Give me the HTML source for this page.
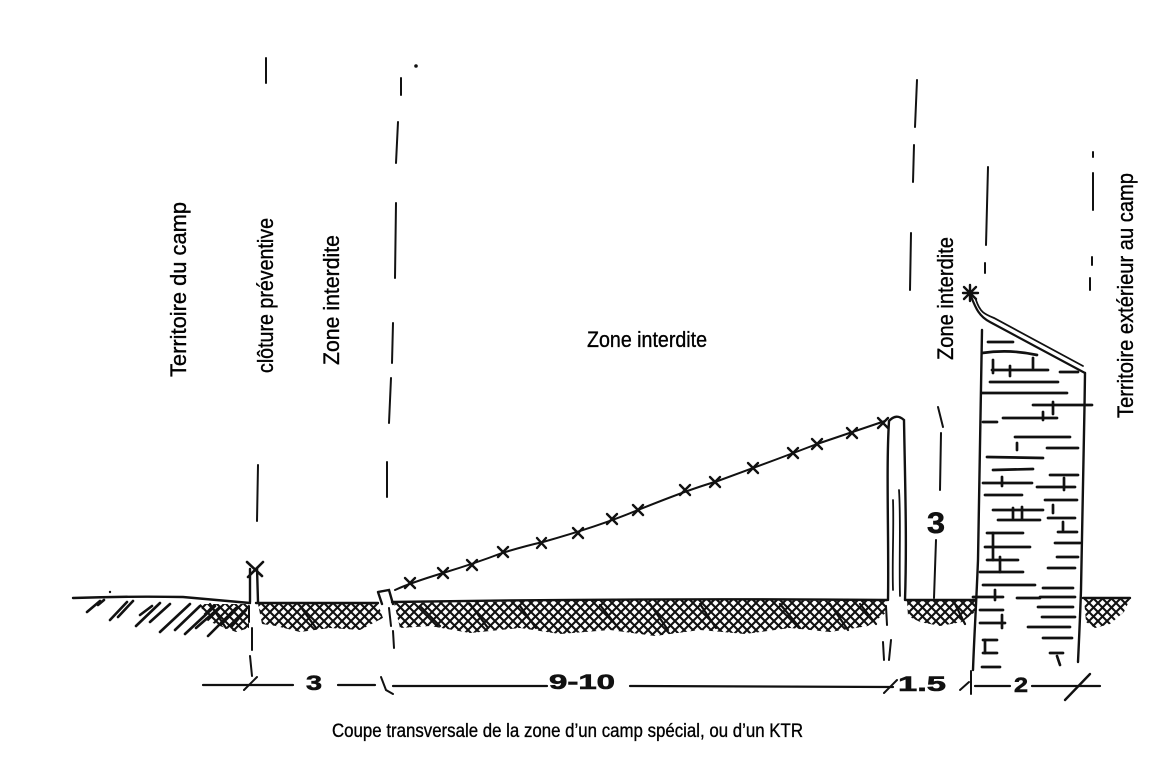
<!DOCTYPE html>
<html><head><meta charset="utf-8"><style>
html,body{margin:0;padding:0;background:#fff;}
svg{display:block}
text{font-family:"Liberation Sans",Arial,sans-serif;fill:#000;stroke:#000;stroke-width:0.35}
.d{font-family:"Liberation Sans",Arial,sans-serif;font-weight:bold;fill:#111;stroke:#111;stroke-width:0.6}
</style></head><body>
<svg width="1168" height="759" viewBox="0 0 1168 759" xmlns="http://www.w3.org/2000/svg">
<defs>
<pattern id="xh" width="9" height="9" patternUnits="userSpaceOnUse">
<path d="M-2,11 L11,-2 M-2,2 L2,-2 M7,11 L11,7 M-2,-2 L11,11 M7,-2 L11,2 M-2,7 L2,11" stroke="#111" stroke-width="2.1" fill="none"/>
</pattern>
</defs>

<!-- Labels -->
<text transform="translate(186,377) rotate(-90)" font-size="22" textLength="175" lengthAdjust="spacingAndGlyphs">Territoire du camp</text>
<text transform="translate(273,373) rotate(-90)" font-size="22" textLength="155" lengthAdjust="spacingAndGlyphs">clôture préventive</text>
<text transform="translate(339,365) rotate(-90)" font-size="22" textLength="130" lengthAdjust="spacingAndGlyphs">Zone interdite</text>
<text x="587" y="347" font-size="22" textLength="120" lengthAdjust="spacingAndGlyphs">Zone interdite</text>
<text transform="translate(953,360) rotate(-90)" font-size="22" textLength="123" lengthAdjust="spacingAndGlyphs">Zone interdite</text>
<text transform="translate(1133,418) rotate(-90)" font-size="22" textLength="245" lengthAdjust="spacingAndGlyphs">Territoire extérieur au camp</text>
<text x="332" y="737" font-size="19.5" textLength="471" lengthAdjust="spacingAndGlyphs">Coupe transversale de la zone d’un camp spécial, ou d’un KTR</text>

<g stroke="#111" stroke-width="2" fill="none" stroke-linecap="round">
<!-- dashed vertical guide lines -->
<path d="M266,58 L266,83 M258,465 L257,521"/>
<path d="M401,78 L401,95 M398,122 L396,163 M396,203 L395,278 M393,323 L392,363 M391,378 L389,423 M387,462 L387,497"/>
<circle cx="416" cy="66" r="0.8" fill="#111"/>
<path d="M917,80 L915,127 M914,145 L913,182 M911,233 L910,290"/>
<path d="M988,167 L986,245 M985,263 L985,273"/>
<path d="M1093,152 L1093,157 M1093,173 L1093,210 M1092,257 L1092,265 M1090,278 L1090,290"/>
<path d="M938,407 L943,427 M941,433 L940,490"/>
<path d="M936,540 L934,598"/>

<!-- ground line -->
<path d="M73,598 Q130,596 183,597 L250,603 M256,603 L378,603 M392,602 Q640,598 887,600 M906,600 L975,600 M1083,598 L1130,598" stroke-width="2.4"/>

<!-- left sparse hatch strokes -->
<path stroke-width="2.6" d="M87,612 L100,601 M110,620 L127,602 M118,617 L133,601 M136,626 L160,603 M150,622 L170,604 M160,632 L190,604 M175,630 L200,606 M185,634 L215,606 M196,628 L220,607 M208,636 L236,608 M232,626 L246,610 M140,615 L152,606 M98,605 L104,600"/>

<!-- left fence post -->
<path d="M250,569 L250,602 M257,568 L258,602" stroke-width="2.4"/>
<path d="M247,562 L262,576 M248,577 L263,562" stroke-width="2.6"/>
<path d="M249,606 L249,622 M252,628 L252,650 M250,656 L252,676"/>
<path d="M244,690 L257,677"/>

<!-- second post (slanted) -->
<path d="M378,592 L389,590 L393,604 M378,592 L382,604" stroke-width="2.4"/>
<path d="M389,608 L391,626 M393,631 L394,648"/>

<!-- barbed wire -->
<path d="M395,590 Q410,583 443,573 T502,553 Q525,546 543,542 Q600,526 638,510 Q690,489 715,482 Q770,462 817,444 Q855,431 885,421" stroke-width="2"/>
<g stroke-width="2.4">
<path d="M405,578 L415,588 M405,588 L415,578"/>
<path d="M438,568 L448,578 M438,578 L448,568"/>
<path d="M467,560 L477,570 M467,570 L477,560"/>
<path d="M498,547 L508,557 M498,557 L508,547"/>
<path d="M537,538 L546,548 M537,548 L546,538"/>
<path d="M573,528 L583,538 M573,538 L583,528"/>
<path d="M607,514 L617,524 M607,524 L617,514"/>
<path d="M633,505 L643,515 M633,515 L643,505"/>
<path d="M680,485 L690,495 M680,495 L690,485"/>
<path d="M710,477 L720,487 M710,487 L720,477"/>
<path d="M748,463 L758,473 M748,473 L758,463"/>
<path d="M788,448 L798,458 M788,458 L798,448"/>
<path d="M812,439 L822,449 M812,449 L822,439"/>
<path d="M847,428 L857,438 M847,438 L857,428"/>
<path d="M878,418 L888,428 M878,428 L888,418"/>
</g>

<!-- main fence pole -->
<path d="M888,600 C889,540 886,470 889,421 Q896,413 904,420 C905,480 907,540 905,600" stroke-width="2.4"/>
<path d="M893,590 C892,560 894,530 893,500 M900,596 C899,560 901,520 899,490" stroke-width="1.8"/>
<path d="M886,606 L887,625 M883,642 L884,660 M891,640 L889,660"/>

<!-- wall -->
<path d="M982,330 C981,400 980,480 978,560 C976,610 974,640 973,670" stroke-width="2.4"/>
<path d="M1085,373 C1084,450 1082,530 1081,590 C1080,620 1079,640 1078,662" stroke-width="2.4"/>
<path d="M970,294 C975,306 978,316 990,322 L1085,373" stroke-width="2.2"/>
<path d="M976,300 C980,312 984,314 994,318 L1083,366" stroke-width="1.8"/>
<path d="M963,293 L978,293 M970,285 L970,301 M964,287 L976,299 M964,299 L976,287" stroke-width="2.4"/>
<g stroke-width="2.7">
<path d="M988,342 L1013,342 M982,353 Q1010,349 1037,355 M992,370 L1048,370 M990,382 L1058,382 M1060,372 L1078,372 M982,393 L1067,393 M1033,405 L1092,405 M1003,418 L1057,418 M983,422 L997,422 M1015,437 L1070,437 M1047,448 L1078,448 M987,457 L1043,458 M993,470 L1033,469 M1050,475 L1078,475 M983,483 L1032,483 M1037,487 L1075,487 M985,495 L1022,495 M1045,500 L1077,500 M993,510 L1043,510 M998,520 L1040,520 M1048,518 L1075,518 M1058,532 L1077,532 M987,533 L1023,533 M985,547 L1030,547 M1055,543 L1080,543 M987,560 L1018,560 M1057,557 L1078,557 M980,572 L1023,572 M1048,568 L1075,568 M983,585 L1035,585 M1043,588 L1073,588 M973,597 L1003,597 M1017,598 L1040,598 M1040,597 L1075,597 M980,610 L1003,610 M1038,607 L1073,607 M1042,617 L1075,617 M980,623 L1005,623 M1028,627 L1070,627 M1043,638 L1072,638 M983,640 L997,640 M983,653 L997,653 M1050,653 L1063,653 M982,667 L1000,667"/>
<path d="M993,360 L993,373 M1010,366 L1010,376 M1033,358 L1033,368 M1043,420 L1043,412 M1053,402 L1053,414 M1017,443 L1017,450 M1064,490 L1064,478 M1002,477 L1002,486 M1013,508 L1013,518 M1022,507 L1022,519 M1053,505 L1053,513 M1063,522 L1063,530 M993,533 L993,560 M1000,557 L1000,572 M995,590 L995,600 M1002,615 L1002,628 M985,640 L985,653 M1057,656 L1060,665"/>
</g>

<!-- dimension line -->
<path d="M203,685 L293,685 M338,685 L375,685 M393,686 L547,686 M630,686 L893,687 M975,686 L1010,686 M1032,686 L1100,686" stroke-width="2.2"/>
<path d="M381,677 L386,690 L393,694"/>
<path d="M884,693 L897,680"/>
<path d="M960,690 L969,682 M971,671 L971,694"/>
<path d="M1065,700 L1090,674" stroke-width="2.4"/>
</g>

<!-- crosshatched ground -->
<polygon fill="url(#xh)" points="200,604 249,604 249,628 236,632 220,626 206,620"/>
<polygon fill="url(#xh)" points="258,604 378,604 383,618 360,630 330,628 300,632 276,626 262,624"/>
<polygon fill="url(#xh)" points="394,603 640,600 887,601 887,612 868,626 830,632 790,628 745,634 700,630 655,636 610,630 560,634 520,628 470,633 430,626 400,628"/>
<polygon fill="url(#xh)" points="907,601 975,601 975,612 962,622 940,626 920,622 908,616"/>
<polygon fill="url(#xh)" points="1084,599 1130,599 1124,612 1110,624 1095,628 1086,622"/>
<g stroke="#111" stroke-width="2.2" fill="none" stroke-linecap="round">
<path d="M210,604 L226,628 M420,606 L440,626 M470,604 L488,628 M600,605 L620,630 M650,604 L668,630 M700,604 L716,628 M780,604 L800,628 M830,604 L848,630 M860,604 L876,624 M955,604 L965,624 M300,606 L316,628 M520,606 L536,628"/>
</g>

<!-- hand-written numbers -->
<text class="d" x="306" y="690" font-size="21" textLength="16" lengthAdjust="spacingAndGlyphs">3</text>
<text class="d" x="549" y="689" font-size="21" textLength="66" lengthAdjust="spacingAndGlyphs">9-10</text>
<text class="d" x="898" y="691" font-size="21" textLength="48" lengthAdjust="spacingAndGlyphs">1.5</text>
<text class="d" x="1014" y="692" font-size="21" textLength="14" lengthAdjust="spacingAndGlyphs">2</text>
<text class="d" x="927" y="533" font-size="30" textLength="18" lengthAdjust="spacingAndGlyphs">3</text>
<circle cx="110" cy="592" r="1.2" fill="#111"/>
</svg>
</body></html>
